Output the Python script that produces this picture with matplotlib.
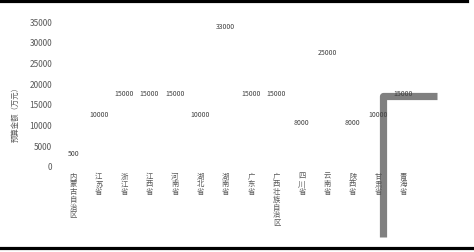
import matplotlib.pyplot as plt
from matplotlib.lines import Line2D

plt.rcParams['font.family'] = ['Noto Sans CJK SC', 'DejaVu Sans']

# --- dados ---
provincias = ['内蒙古自治区', '江苏省', '浙江省', '江西省', '河南省', '湖北省', '湖南省',
              '广东省', '广西壮族自治区', '四川省', '云南省', '陕西省', '甘肃省', '青海省']
valores = [500, 10000, 15000, 15000, 15000, 10000, 33000,
           15000, 15000, 8000, 25000, 8000, 10000, 15000]
y_ticks = [0, 5000, 10000, 15000, 20000, 25000, 30000, 35000]

fig = plt.figure(figsize=(4.74, 2.53), dpi=100)
ax = fig.add_axes([0.128, 0.34, 0.75, 0.573])

x = list(range(len(provincias)))
ax.plot(x, valores, linestyle='none')  # pontos invisíveis, só rótulos

y_max = 35000
desloc = 2600      # rótulo acima do ponto (unidades do eixo)
topo_rotulo = 33800  # rótulo não passa do topo da área
for xi, v in zip(x, valores):
    ax.text(xi, min(v + desloc, topo_rotulo), f'{v}', ha='center', va='center',
            fontsize=5, color='#404040', zorder=5)

ax.set_xlim(-0.5, len(provincias) - 0.5)
ax.set_ylim(0, y_max)
ax.set_yticks(y_ticks)
ax.set_yticklabels([str(t) for t in y_ticks], fontsize=6, color='#595959')
ax.tick_params(axis='y', length=0, pad=6)
ax.set_xticks([])
for s in ax.spines.values():
    s.set_visible(False)

# rótulos das categorias: caracteres empilhados na vertical
for xi, nome in zip(x, provincias):
    ax.text(xi, -0.04, '\n'.join(nome), transform=ax.get_xaxis_transform(),
            ha='center', va='top', fontsize=5.3, color='#595959', linespacing=0.95)

fig.text(0.032, 0.555, '预算金额（万元）', rotation=90, ha='center', va='center',
         fontsize=5.3, color='#595959')

# linhas de moldura
fig.add_artist(Line2D([0, 0.986], [0.993, 0.993], color='black', linewidth=2.3))
fig.add_artist(Line2D([0, 1], [0.017, 0.017], color='black', linewidth=2.3))
# forma cinza à direita (atrás dos rótulos)
ax.add_line(Line2D([0.809, 0.809, 0.922], [0.059, 0.615, 0.615],
                   transform=fig.transFigure, clip_on=False, zorder=1,
                   color='#808080', linewidth=5.2, solid_joinstyle='round',
                   solid_capstyle='butt'))

plt.savefig('out.png', dpi=100)
